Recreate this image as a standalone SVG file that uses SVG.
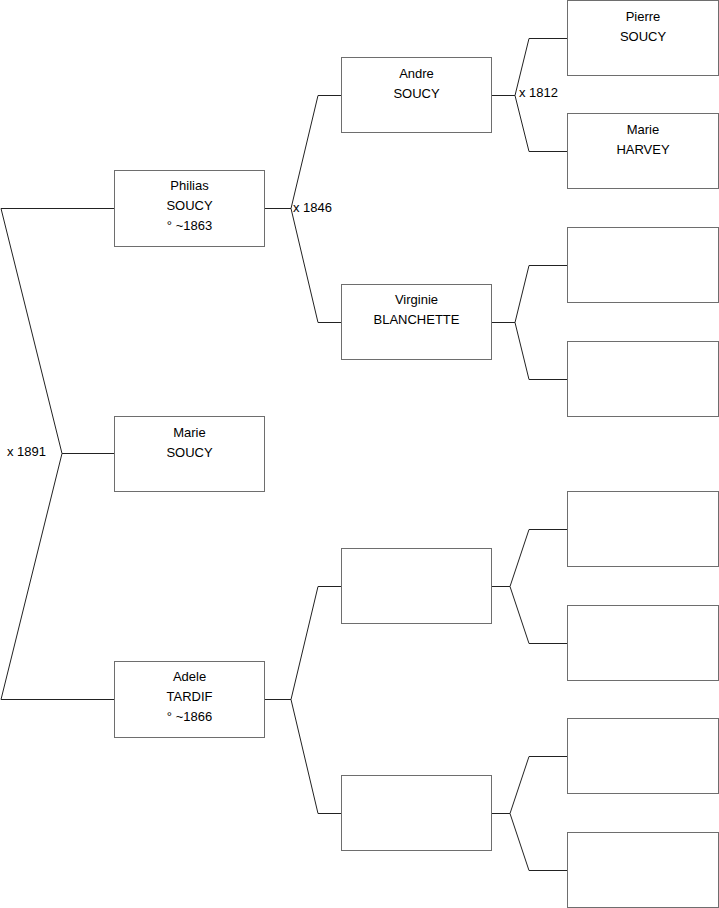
<svg xmlns="http://www.w3.org/2000/svg" width="719" height="908" viewBox="0 0 719 908">
<style>
.b{fill:#fff;stroke:#6e6e6e;stroke-width:1}
.c{fill:none;stroke:#222;stroke-width:1}
text{font-family:"Liberation Sans",Arial,sans-serif;font-size:13px;fill:#000}
.m{text-anchor:middle}
</style>
<rect width="719" height="908" fill="#fff"/>
<g id="connectors">
<polyline class="c" points="114,208.5 1,208.5 62,453.5 1,699.5 114,699.5"/>
<line class="c" x1="62" y1="453.5" x2="114" y2="453.5"/>
<polyline class="c" points="341,95.5 318,95.5 291,208.5 318,322.5 341,322.5"/>
<line class="c" x1="265" y1="208.5" x2="291" y2="208.5"/>
<polyline class="c" points="341,586.5 318,586.5 291,699.5 318,813.5 341,813.5"/>
<line class="c" x1="265" y1="699.5" x2="291" y2="699.5"/>
<polyline class="c" points="567,38.5 529,38.5 515,95.5 529,151.5 567,151.5"/>
<line class="c" x1="492" y1="95.5" x2="515" y2="95.5"/>
<polyline class="c" points="567,265.5 529,265.5 515,322.5 529,379.5 567,379.5"/>
<line class="c" x1="492" y1="322.5" x2="515" y2="322.5"/>
<polyline class="c" points="567,529.5 529,529.5 510,586.5 529,643.5 567,643.5"/>
<line class="c" x1="492" y1="586.5" x2="510" y2="586.5"/>
<polyline class="c" points="567,756.5 529,756.5 510,813.5 529,870.5 567,870.5"/>
<line class="c" x1="492" y1="813.5" x2="510" y2="813.5"/>
<text x="7" y="456">x 1891</text>
<text x="293" y="212">x 1846</text>
<text x="519" y="97">x 1812</text>
</g>
<g id="philias"><rect class="b" x="114.5" y="170.5" width="150" height="76"/>
<text class="m" x="189.5" y="190">Philias</text><text class="m" x="189.5" y="210">SOUCY</text><text class="m" x="189.5" y="230">° ~1863</text></g>
<g id="marie"><rect class="b" x="114.5" y="416.5" width="150" height="75"/>
<text class="m" x="189.5" y="437">Marie</text><text class="m" x="189.5" y="457">SOUCY</text></g>
<g id="adele"><rect class="b" x="114.5" y="661.5" width="150" height="76"/>
<text class="m" x="189.5" y="681">Adele</text><text class="m" x="189.5" y="701">TARDIF</text><text class="m" x="189.5" y="721">° ~1866</text></g>
<g id="andre"><rect class="b" x="341.5" y="57.5" width="150" height="75"/>
<text class="m" x="416.5" y="78">Andre</text><text class="m" x="416.5" y="98">SOUCY</text></g>
<g id="virginie"><rect class="b" x="341.5" y="284.5" width="150" height="75"/>
<text class="m" x="416.5" y="304">Virginie</text><text class="m" x="416.5" y="324">BLANCHETTE</text></g>
<g id="p3"><rect class="b" x="341.5" y="548.5" width="150" height="75"/></g>
<g id="p4"><rect class="b" x="341.5" y="775.5" width="150" height="75"/></g>
<g id="pierre"><rect class="b" x="567.5" y="0.5" width="151" height="75"/>
<text class="m" x="643" y="21">Pierre</text><text class="m" x="643" y="41">SOUCY</text></g>
<g id="marieh"><rect class="b" x="567.5" y="113.5" width="151" height="75"/>
<text class="m" x="643" y="134">Marie</text><text class="m" x="643" y="154">HARVEY</text></g>
<g id="g3"><rect class="b" x="567.5" y="227.5" width="151" height="75"/></g>
<g id="g4"><rect class="b" x="567.5" y="341.5" width="151" height="75"/></g>
<g id="g5"><rect class="b" x="567.5" y="491.5" width="151" height="75"/></g>
<g id="g6"><rect class="b" x="567.5" y="605.5" width="151" height="75"/></g>
<g id="g7"><rect class="b" x="567.5" y="718.5" width="151" height="75"/></g>
<g id="g8"><rect class="b" x="567.5" y="832.5" width="151" height="75"/></g>
</svg>
